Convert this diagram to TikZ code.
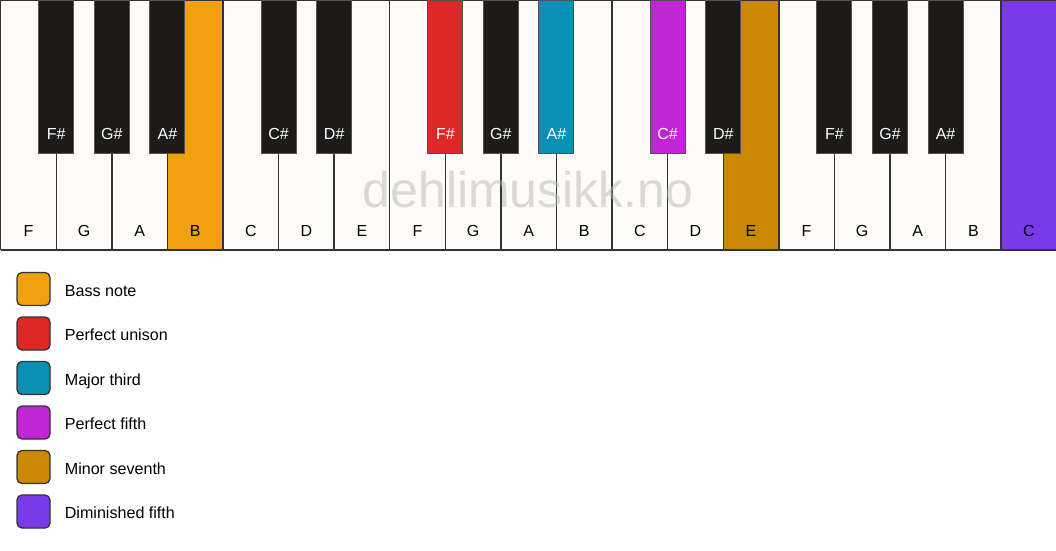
\documentclass[tikz,border=0pt]{standalone}
\usepackage{fontspec}
\setmainfont{Liberation Sans}
\definecolor{keywhite}{HTML}{FDFCF8}
\definecolor{keyblack}{HTML}{1C1B19}
\definecolor{keyedge}{HTML}{333333}
\definecolor{cbass}{HTML}{F3A010}
\definecolor{cunison}{HTML}{DE2828}
\definecolor{cthird}{HTML}{0A90B5}
\definecolor{cfifth}{HTML}{C026D4}
\definecolor{cseventh}{HTML}{C98904}
\definecolor{cdim}{HTML}{7B3AEA}
\definecolor{wmark}{HTML}{B8B8B8}
\begin{document}
\begin{tikzpicture}[x=1pt,y=-1pt,
  whitekey/.style={draw=keyedge, line width=1.4pt, minimum width=55.5789pt, minimum height=249pt, inner sep=0pt, outer sep=0pt, anchor=north west},
  blackkey/.style={draw=keyedge!85, line width=1pt, minimum width=35pt, minimum height=153pt, inner sep=0pt, outer sep=0pt, anchor=north},
  wlabel/.style={font=\fontsize{16}{16}\selectfont, text=black, inner sep=0pt, anchor=base},
  blabel/.style={font=\fontsize{16}{16}\selectfont, text=white, inner sep=0pt, anchor=base},
  legbox/.style={draw=keyedge, line width=1.3pt, rounded corners=5pt, minimum width=33pt, minimum height=33pt, inner sep=0pt},
  legtext/.style={font=\fontsize{16.1}{16.1}\selectfont, text=black, inner sep=0pt, anchor=base west},
  watermark/.style={font=\fontsize{50}{50}\selectfont, text=wmark, text opacity=0.5, inner sep=0pt}
]
\useasboundingbox (0,0) rectangle (1056,550);
\fill[white] (0,0) rectangle (1056,550);
% white keys
\foreach \n/\c [count=\i from 0] in {F/keywhite,G/keywhite,A/keywhite,B/cbass,C/keywhite,D/keywhite,E/keywhite,F/keywhite,G/keywhite,A/keywhite,B/keywhite,C/keywhite,D/keywhite,E/cseventh,F/keywhite,G/keywhite,A/keywhite,B/keywhite,C/cdim}{
  \node[whitekey, fill=\c] (w\i) at (\i*55.5789+0.7, 0.7) {};
  \node[wlabel] (lw\i) at ([yshift=13pt]w\i.south) {\n};
}
\draw[keyedge, line width=2pt] (w0.south west) -- (w18.south east);
% watermark
\node[watermark] (wm) at (528,190) {dehlimusikk.no};
% black keys
\foreach \b/\n/\c in {1/F\#/keyblack,2/G\#/keyblack,3/A\#/keyblack,5/C\#/keyblack,6/D\#/keyblack,8/F\#/cunison,9/G\#/keyblack,10/A\#/cthird,12/C\#/cfifth,13/D\#/keyblack,15/F\#/keyblack,16/G\#/keyblack,17/A\#/keyblack}{
  \node[blackkey, fill=\c] (b\b) at (\b*55.5789+0.7, 0.5) {};
  \node[blabel] (lb\b) at ([yshift=14pt]b\b.south) {\n};
}
% legend
\foreach \c/\t [count=\k from 0] in {cbass/Bass note,cunison/Perfect unison,cthird/Major third,cfifth/Perfect fifth,cseventh/Minor seventh,cdim/Diminished fifth}{
  \node[legbox, fill=\c] (lg\k) at (33.5, 289+44.5*\k) {};
  \node[legtext] (lt\k) at ([xshift=14pt, yshift=-7pt]lg\k.east) {\t};
}
\end{tikzpicture}
\end{document}
